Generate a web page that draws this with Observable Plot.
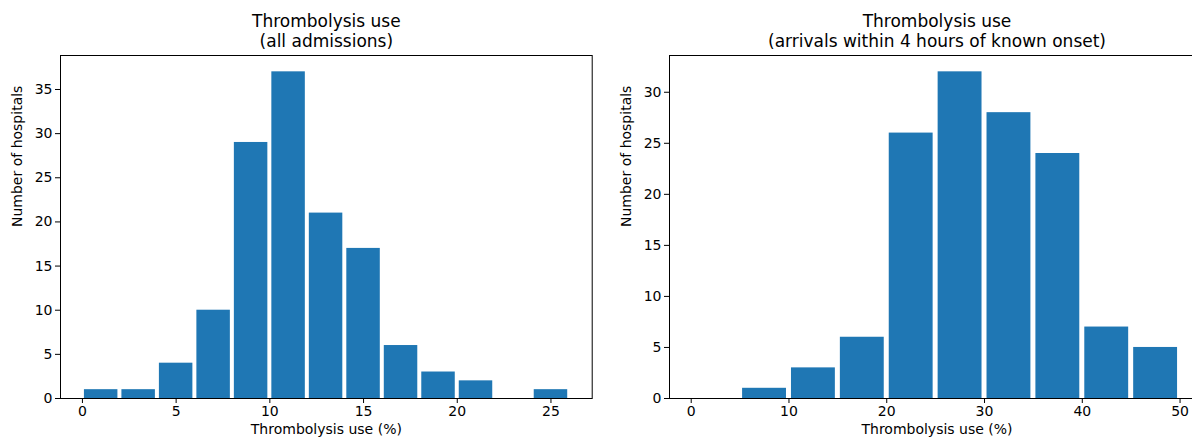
<!DOCTYPE html>
<html>
<head>
<meta charset="utf-8">
<script src="https://cdn.jsdelivr.net/npm/d3@7"></script>
<script src="https://cdn.jsdelivr.net/npm/@observablehq/plot@0.6"></script>
<style>
  html, body { margin: 0; padding: 0; background: white; overflow: hidden; }
  #wrap { position: relative; width: 1192px; height: 441px; overflow: hidden; }
  #left { position: absolute; left: 0; top: 0; width: 600px; }
  #right { position: absolute; left: 600px; top: 0; width: 612px; }
  svg { max-width: none !important; }
</style>
</head>
<body>
<div id="wrap"><div id="left"></div><div id="right"></div></div>
<script>
// ---- Data ----
const leftBinStart = [0, 2, 4, 6, 8, 10, 12, 14, 16, 18, 20, 22, 24];
const leftBinWidth = 2;
const leftCounts = [1, 1, 4, 10, 29, 37, 21, 17, 6, 3, 2, 0, 1];
const leftXTicks = [0, 5, 10, 15, 20, 25];
const leftYTicks = [0, 5, 10, 15, 20, 25, 30, 35];
const leftTitle = "Thrombolysis use\n(all admissions)";

const rightBinStart = [0, 5, 10, 15, 20, 25, 30, 35, 40, 45];
const rightBinWidth = 5;
const rightCounts = [0, 1, 3, 6, 26, 32, 28, 24, 7, 5];
const rightXTicks = [0, 10, 20, 30, 40, 50];
const rightYTicks = [0, 5, 10, 15, 20, 25, 30];
const rightTitle = "Thrombolysis use\n(arrivals within 4 hours of known onset)";

const xLabel = "Thrombolysis use (%)";
const yLabel = "Number of hospitals";
const barColor = "#1f77b4";

function panel({starts, width, counts, xTicks, yTicks, title, xDomain, yDomain, w, ml, mr, inset}) {
  const rows = starts.map((s, i) => ({x1: s, x2: s + width, y: counts[i]}));
  return Plot.plot({
    width: w,
    height: 441,
    marginLeft: ml,
    marginRight: mr,
    marginTop: 55,
    marginBottom: 43,
    style: {fontFamily: "DejaVu Sans", fontSize: "14px", color: "black", background: "white", overflow: "visible", maxWidth: "none"},
    x: {domain: xDomain},
    y: {domain: yDomain},
    marks: [
      Plot.rectY(rows, {x1: "x1", x2: "x2", y: "y", fill: barColor, insetLeft: inset, insetRight: inset}),
      Plot.frame({stroke: "black", strokeWidth: 1}),
      Plot.axisX({ticks: xTicks, tickSize: 5, tickPadding: 3, label: null, tickFormat: d => String(d), fontSize: 14}),
      Plot.axisY({ticks: yTicks, tickSize: 5, tickPadding: 3, label: null, tickFormat: d => String(d), fontSize: 14}),
      Plot.text([xLabel], {frameAnchor: "bottom", dy: 35, fontSize: 14, fill: "black"}),
      Plot.text([yLabel], {frameAnchor: "left", dx: -43, rotate: -90, fontSize: 14, fill: "black"}),
      Plot.text([title], {frameAnchor: "top", lineAnchor: "bottom", dy: -9, fontSize: 17, lineHeight: 1.15, fill: "black"})
    ]
  });
}

document.getElementById("left").append(panel({
  starts: leftBinStart, width: leftBinWidth, counts: leftCounts,
  xTicks: leftXTicks, yTicks: leftYTicks, title: leftTitle,
  xDomain: [-1.17, 27.2], yDomain: [0, 38.85], w: 600, ml: 60, mr: 8.3, inset: 2
}));
document.getElementById("right").append(panel({
  starts: rightBinStart, width: rightBinWidth, counts: rightCounts,
  xTicks: rightXTicks, yTicks: rightYTicks, title: rightTitle,
  xDomain: [-2.22, 52.5], yDomain: [0, 33.6], w: 612, ml: 69, mr: 8, inset: 2.5
}));
</script>
</body>
</html>
